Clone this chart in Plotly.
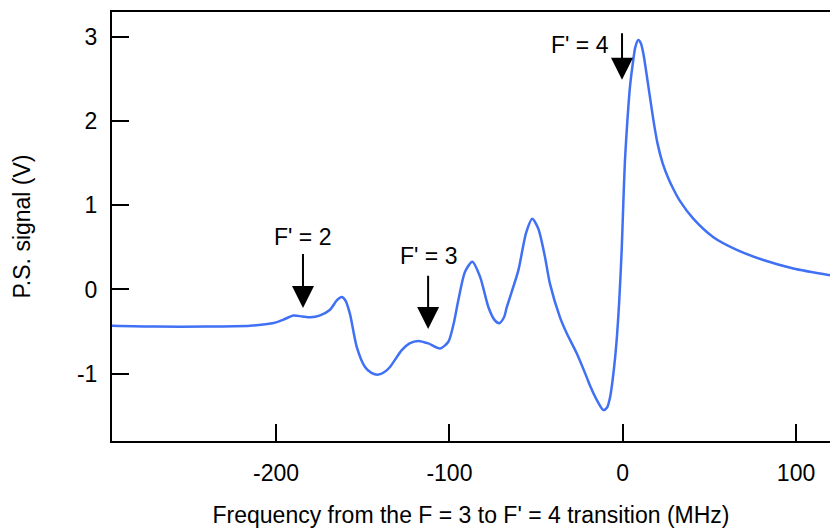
import plotly.graph_objects as go

# Data
x_mhz = [-294.7, -270, -240, -215, -205, -200, -196, -190, -185, -180, -175, -168.9, -165, -162.2,
         -160, -157.4, -153.5, -148.7, -145, -141, -137.5, -134.3, -127.5, -123, -117.9, -112.2,
         -105.4, -100.6, -97.5, -94.9, -91, -86.8, -82.3, -77.5, -74, -71.2, -68.5, -66.9,
         -60.2, -55.8, -52.2, -48.7, -45, -42, -36.2, -32.3, -26.5, -20.8, -18.9, -15, -11.2,
         -9, -7.3, -5.4, -3.5, -2.0, -0.6, 0.3, 1.3, 2.7, 4.2, 5.8, 7.3, 9.0, 10.5, 11.9, 14.8,
         17.7, 20.0, 23.0, 26.3, 29.5, 32.7, 40.7, 52.3, 65.8, 81.1, 98.4, 119.6]
signal_v = [-0.43, -0.44, -0.44, -0.43, -0.41, -0.39, -0.36, -0.31, -0.32, -0.33, -0.31, -0.24,
            -0.13, -0.09, -0.13, -0.29, -0.68, -0.92, -0.99, -1.01, -0.98, -0.92, -0.72, -0.64,
            -0.61, -0.64, -0.70, -0.62, -0.40, -0.13, 0.21, 0.33, 0.15, -0.21, -0.36, -0.40,
            -0.33, -0.21, 0.23, 0.67, 0.84, 0.72, 0.40, 0.07, -0.33, -0.52, -0.76, -1.04, -1.14,
            -1.31, -1.43, -1.40, -1.28, -1.00, -0.60, -0.13, 0.47, 1.00, 1.54, 2.01, 2.41, 2.68,
            2.88, 2.96, 2.92, 2.80, 2.41, 2.01, 1.74, 1.50, 1.32, 1.18, 1.06, 0.84, 0.62, 0.47,
            0.35, 0.25, 0.17]

# Arrow markers: label, arrow x, tail y, tip y, label x, label y
labels = ["F' = 2", "F' = 3", "F' = 4"]
arrow_x = [-184.5, -112.3, -0.4]
arrow_tail = [0.44, 0.18, 3.06]
arrow_tip = [-0.22, -0.47, 2.49]
label_x = [-184.5, -112.3, -7.0]
label_y = [0.62, 0.40, 2.90]
label_anchor = ["center", "center", "right"]

xticks = [-200, -100, 0, 100]
yticks = [-1, 0, 1, 2, 3]

FONT = "Liberation Sans, Arial, Helvetica, sans-serif"
FS = 23

fig = go.Figure()
fig.add_trace(go.Scatter(x=x_mhz, y=signal_v, mode="lines",
                         line=dict(color="#4070F4", width=2.5, shape="spline", smoothing=0.7),
                         showlegend=False, hoverinfo="skip"))

annotations = []
for i in range(len(labels)):
    annotations.append(dict(x=arrow_x[i], y=arrow_tip[i], ax=arrow_x[i], ay=arrow_tail[i],
                            xref="x", yref="y", axref="x", ayref="y", text="",
                            showarrow=True, arrowhead=2, arrowsize=2.2, arrowwidth=2,
                            arrowcolor="black", standoff=0, startstandoff=0))
    annotations.append(dict(x=label_x[i], y=label_y[i], xref="x", yref="y", text=labels[i],
                            showarrow=False, xanchor=label_anchor[i], yanchor="middle",
                            font=dict(family=FONT, size=FS, color="black")))

fig.update_layout(
    width=830, height=532,
    margin=dict(l=112, r=0, t=12, b=91),
    paper_bgcolor="white", plot_bgcolor="white",
    annotations=annotations,
    font=dict(family=FONT, size=FS, color="black"),
    xaxis=dict(range=[-294.7, 119.6], tickvals=xticks, ticktext=[str(v) for v in xticks],
               ticks="inside", ticklen=17, tickwidth=2, tickcolor="black",
               showline=True, linewidth=2, linecolor="black", mirror=True,
               showgrid=False, zeroline=False, ticklabelstandoff=10,
               title=dict(text="Frequency from the F = 3 to F' = 4 transition (MHz)",
                          font=dict(family=FONT, size=FS), standoff=22),
               tickfont=dict(family=FONT, size=FS)),
    yaxis=dict(range=[-1.798, 3.293], tickvals=yticks, ticktext=[str(v) for v in yticks],
               ticks="inside", ticklen=17, tickwidth=2, tickcolor="black",
               showline=True, linewidth=2, linecolor="black",
               showgrid=False, zeroline=False, ticklabelstandoff=8,
               title=dict(text="P.S. signal (V)", font=dict(family=FONT, size=FS), standoff=40),
               tickfont=dict(family=FONT, size=FS)),
)

fig.write_html("out.html")
